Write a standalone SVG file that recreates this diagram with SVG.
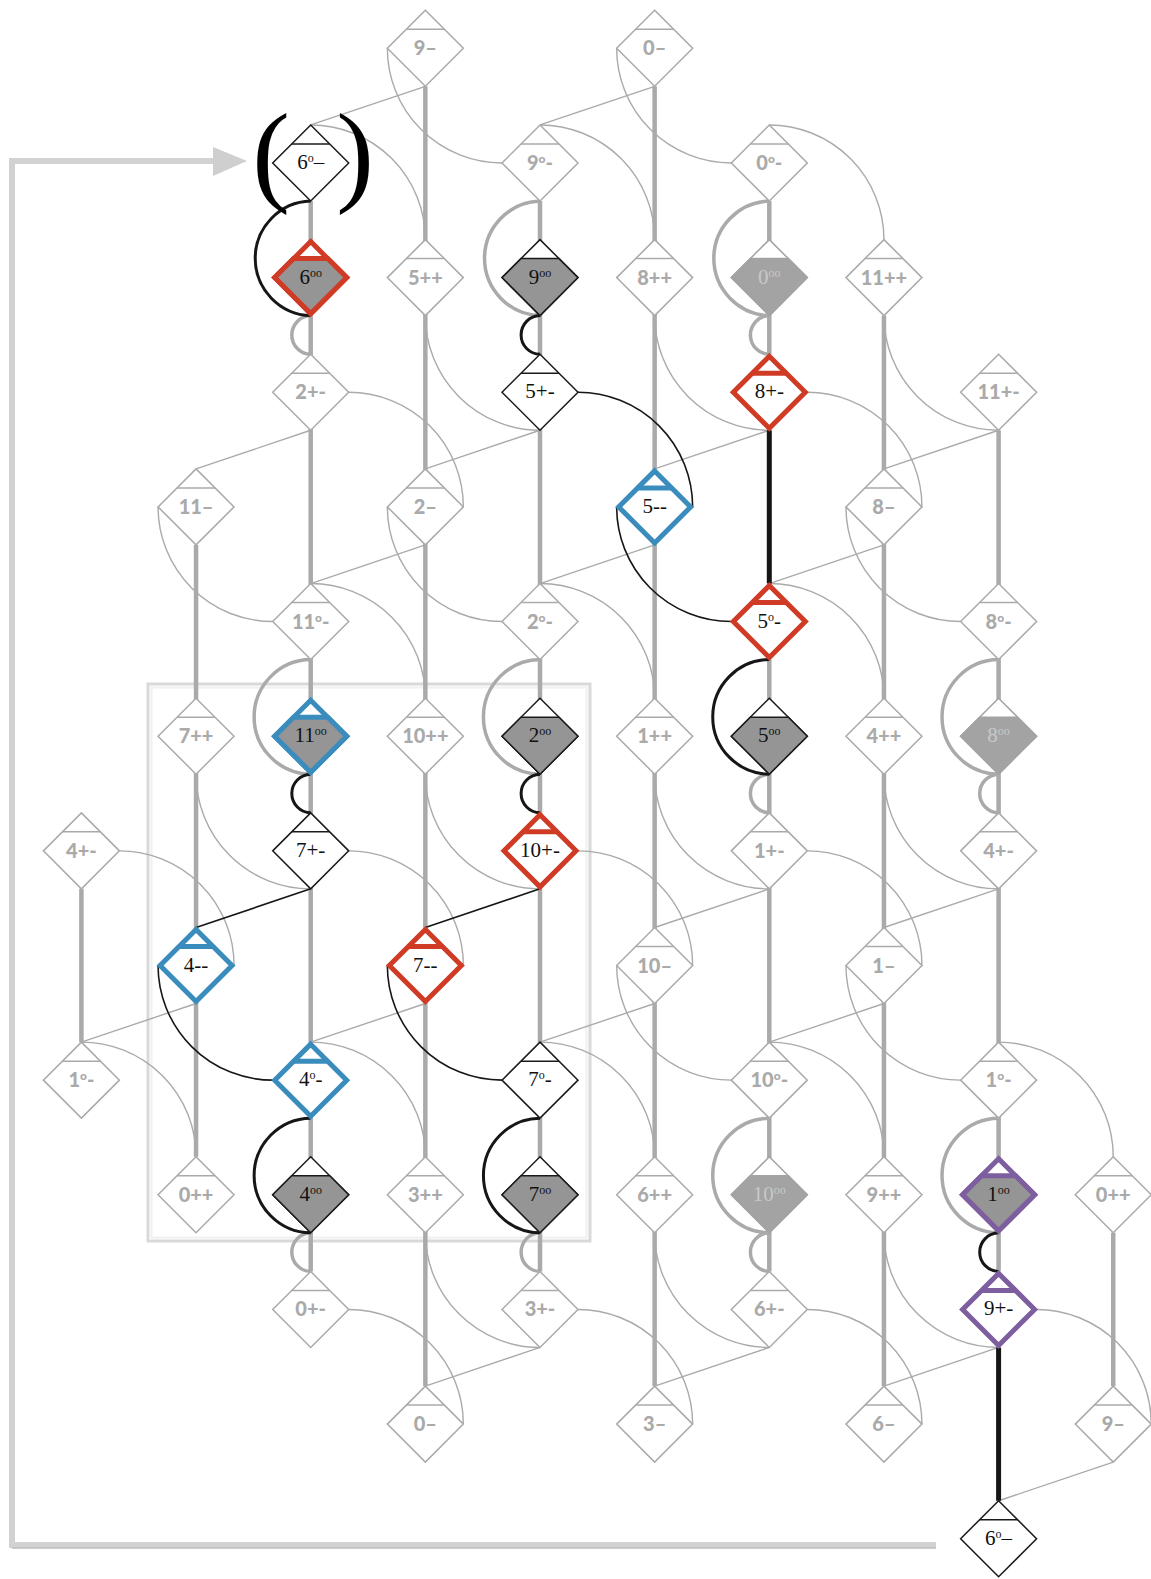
<svg xmlns="http://www.w3.org/2000/svg" width="1151" height="1579" viewBox="0 0 1151 1579">
<style>
.thin{fill:none;stroke:#aaa;stroke-width:1.4}
.thick{fill:none;stroke:#aaa;stroke-width:4.5}
.arcg{fill:none;stroke:#aaa;stroke-width:3.5}
.arck{fill:none;stroke:#161616;stroke-width:3}
.thinb{fill:none;stroke:#161616;stroke-width:1.6}
.thickb{fill:none;stroke:#161616;stroke-width:5}
.d{fill:#fff}
.lo{fill:#959595}
.g polygon,.g line{stroke:#aaa;stroke-width:1.5}
.k polygon,.k line{stroke:#1a1a1a;stroke-width:1.5}
.gf polygon{stroke:#a3a3a3;stroke-width:1.5}
.gf .lo{fill:#a3a3a3}
.red polygon,.red line{stroke:#d03b26;stroke-width:5}
.blue polygon,.blue line{stroke:#3a8cbd;stroke-width:5}
.pur polygon,.pur line{stroke:#7d5e9f;stroke-width:5}
text{text-anchor:middle}
.tg{font-family:Lato,"Liberation Sans",sans-serif;font-weight:900;font-size:20px;fill:#aaa}
.ts{font-family:"Liberation Serif",serif;font-size:21px;fill:#111}
.gf text{fill:#c8c8c8}
.su{font-size:12px}
.frame{fill:none;stroke:#d9d9d9;stroke-width:3}
.frame2{fill:none;stroke:#f0f0f0;stroke-width:2}
.bar{fill:none;stroke:#d2d2d2;stroke-width:6}
.paren{font-family:"Liberation Serif",serif;font-size:113px;fill:#000}
</style>

<g id="frame">
<rect class="frame" x="148" y="684" width="442" height="557"/>
<rect class="frame2" x="151.5" y="687.5" width="435" height="550"/>
</g>

<g id="feedback-arrow">
<path class="bar" d="M936,1545 H12 V161 H214"/>
<path d="M936,1548 H12" fill="none" stroke="#bdbdbd" stroke-width="1.5"/>
<polygon points="213,147 247,161 213,176" fill="#cfcfcf"/>
</g>

<g id="connectors">
<path class="thick" d="M425.35,86.3V1386.1 M654.65,86.3V1386.1 M883.95,315.6V1386.1 M1113.25,1232.8V1386.1 M196.05,544.9V1156.8 M81.4,888.85V1042.15 M310.7,201V1271.45 M540,201V1271.45 M769.3,201V354.25 M769.3,659.55V1271.45 M998.6,430.25V1271.45"/>
<path class="thin" d="M425.35,86.3L310.7,124.95 M654.65,86.3L540,124.95 M310.7,430.25L196.05,468.9 M540,430.25L425.35,468.9 M769.3,430.25L654.65,468.9 M998.6,430.25L883.95,468.9 M425.35,544.9L310.7,583.55 M654.65,544.9L540,583.55 M883.95,544.9L769.3,583.55 M769.3,888.85L654.65,927.5 M998.6,888.85L883.95,927.5 M196.05,1003.5L81.4,1042.15 M425.35,1003.5L310.7,1042.15 M654.65,1003.5L540,1042.15 M883.95,1003.5L769.3,1042.15 M540,1347.45L425.35,1386.1 M769.3,1347.45L654.65,1386.1 M998.6,1347.45L883.95,1386.1 M1113.25,1462.1L998.6,1500.75"/>
<path class="thin" d="M348.7,392.25A114.65,114.65 0 0 1 463.35,506.9 M807.3,392.25A114.65,114.65 0 0 1 921.95,506.9 M119.4,850.85A114.65,114.65 0 0 1 234.05,965.5 M348.7,850.85A114.65,114.65 0 0 1 463.35,965.5 M578,850.85A114.65,114.65 0 0 1 692.65,965.5 M807.3,850.85A114.65,114.65 0 0 1 921.95,965.5 M348.7,1309.45A114.65,114.65 0 0 1 463.35,1424.1 M578,1309.45A114.65,114.65 0 0 1 692.65,1424.1 M807.3,1309.45A114.65,114.65 0 0 1 921.95,1424.1 M1036.6,1309.45A114.65,114.65 0 0 1 1151.25,1424.1"/>
<path class="thin" d="M387.35,48.3A114.65,114.65 0 0 0 502,162.95 M616.65,48.3A114.65,114.65 0 0 0 731.3,162.95 M158.05,506.9A114.65,114.65 0 0 0 272.7,621.55 M387.35,506.9A114.65,114.65 0 0 0 502,621.55 M845.95,506.9A114.65,114.65 0 0 0 960.6,621.55 M616.65,965.5A114.65,114.65 0 0 0 731.3,1080.15 M845.95,965.5A114.65,114.65 0 0 0 960.6,1080.15"/>
<path class="thin" d="M425.35,315.6A114.65,114.65 0 0 0 540,430.25 M654.65,315.6A114.65,114.65 0 0 0 769.3,430.25 M883.95,315.6A114.65,114.65 0 0 0 998.6,430.25 M196.05,774.2A114.65,114.65 0 0 0 310.7,888.85 M425.35,774.2A114.65,114.65 0 0 0 540,888.85 M654.65,774.2A114.65,114.65 0 0 0 769.3,888.85 M883.95,774.2A114.65,114.65 0 0 0 998.6,888.85 M425.35,1232.8A114.65,114.65 0 0 0 540,1347.45 M654.65,1232.8A114.65,114.65 0 0 0 769.3,1347.45 M883.95,1232.8A114.65,114.65 0 0 0 998.6,1347.45"/>
<path class="thin" d="M310.7,124.95A114.65,114.65 0 0 1 425.35,239.6 M540,124.95A114.65,114.65 0 0 1 654.65,239.6 M769.3,124.95A114.65,114.65 0 0 1 883.95,239.6 M310.7,583.55A114.65,114.65 0 0 1 425.35,698.2 M540,583.55A114.65,114.65 0 0 1 654.65,698.2 M769.3,583.55A114.65,114.65 0 0 1 883.95,698.2 M81.4,1042.15A114.65,114.65 0 0 1 196.05,1156.8 M310.7,1042.15A114.65,114.65 0 0 1 425.35,1156.8 M540,1042.15A114.65,114.65 0 0 1 654.65,1156.8 M769.3,1042.15A114.65,114.65 0 0 1 883.95,1156.8 M998.6,1042.15A114.65,114.65 0 0 1 1113.25,1156.8"/>
<path class="arcg" d="M540,201A57.33,57.33 0 0 0 540,315.6 M769.3,201A57.33,57.33 0 0 0 769.3,315.6 M310.7,659.55A57.33,57.33 0 0 0 310.7,774.2 M540,659.55A57.33,57.33 0 0 0 540,774.2 M998.6,659.55A57.33,57.33 0 0 0 998.6,774.2 M769.3,1118.15A57.33,57.33 0 0 0 769.3,1232.8 M998.6,1118.15A57.33,57.33 0 0 0 998.6,1232.8"/>
<path class="arcg" d="M310.7,315.6A19.33,19.33 0 0 0 310.7,354.25 M769.3,315.6A19.33,19.33 0 0 0 769.3,354.25 M769.3,774.2A19.33,19.33 0 0 0 769.3,812.85 M998.6,774.2A19.33,19.33 0 0 0 998.6,812.85 M310.7,1232.8A19.33,19.33 0 0 0 310.7,1271.45 M540,1232.8A19.33,19.33 0 0 0 540,1271.45 M769.3,1232.8A19.33,19.33 0 0 0 769.3,1271.45"/>
<path class="thickb" d="M769.3,430.25V583.55 M998.6,1347.45V1500.75"/>
<path class="thinb" d="M310.7,888.85L196.05,927.5 M540,888.85L425.35,927.5 M578,392.25A114.65,114.65 0 0 1 692.65,506.9 M616.65,506.9A114.65,114.65 0 0 0 731.3,621.55 M158.05,965.5A114.65,114.65 0 0 0 272.7,1080.15 M387.35,965.5A114.65,114.65 0 0 0 502,1080.15"/>
<path class="arck" d="M310.7,201A57.33,57.33 0 0 0 310.7,315.6 M769.3,659.55A57.33,57.33 0 0 0 769.3,774.2 M310.7,1118.15A57.33,57.33 0 0 0 310.7,1232.8 M540,1118.15A57.33,57.33 0 0 0 540,1232.8"/>
<path class="arck" d="M540,315.6A19.33,19.33 0 0 0 540,354.25 M310.7,774.2A19.33,19.33 0 0 0 310.7,812.85 M540,774.2A19.33,19.33 0 0 0 540,812.85 M998.6,1232.8A19.33,19.33 0 0 0 998.6,1271.45"/>
</g>

<g id="brackets">
<text class="paren" x="271" y="191">(</text>
<text class="paren" x="355" y="191">)</text>
</g>

<g id="nodes">
<g id="n-9mm-top" class="g" transform="translate(425.35,48.3)"><polygon class="d" points="0,-38 38,0 0,38 -38,0"/><line x1="-19" y1="-19" x2="19" y2="-19"/><text class="tg" y="7">9–</text></g>
<g id="n-0mm-top" class="g" transform="translate(654.65,48.3)"><polygon class="d" points="0,-38 38,0 0,38 -38,0"/><line x1="-19" y1="-19" x2="19" y2="-19"/><text class="tg" y="7">0–</text></g>
<g id="n-6om-top" class="k" transform="translate(310.7,162.95)"><polygon class="d" points="0,-38 38,0 0,38 -38,0"/><line x1="-19" y1="-19" x2="19" y2="-19"/><text class="ts" y="6">6<tspan class="su" dy="-7">o</tspan><tspan dy="7">–</tspan></text></g>
<g id="n-9om" class="g" transform="translate(540,162.95)"><polygon class="d" points="0,-38 38,0 0,38 -38,0"/><line x1="-19" y1="-19" x2="19" y2="-19"/><text class="tg" y="7">9<tspan class="su" dy="-7">o</tspan><tspan dy="7">-</tspan></text></g>
<g id="n-0om" class="g" transform="translate(769.3,162.95)"><polygon class="d" points="0,-38 38,0 0,38 -38,0"/><line x1="-19" y1="-19" x2="19" y2="-19"/><text class="tg" y="7">0<tspan class="su" dy="-7">o</tspan><tspan dy="7">-</tspan></text></g>
<g id="n-6oo" class="red" transform="translate(310.7,277.6)"><polygon class="d" points="0,-36 36,0 0,36 -36,0"/><polygon class="lo" points="-17,-19 17,-19 36,0 0,36 -36,0"/><text class="ts" y="6">6<tspan class="su" dy="-7">oo</tspan></text></g>
<g id="n-5pp" class="g" transform="translate(425.35,277.6)"><polygon class="d" points="0,-38 38,0 0,38 -38,0"/><line x1="-19" y1="-19" x2="19" y2="-19"/><text class="tg" y="7">5++</text></g>
<g id="n-9oo" class="k" transform="translate(540,277.6)"><polygon class="d" points="0,-38 38,0 0,38 -38,0"/><polygon class="lo" points="-19,-19 19,-19 38,0 0,38 -38,0"/><text class="ts" y="6">9<tspan class="su" dy="-7">oo</tspan></text></g>
<g id="n-8pp" class="g" transform="translate(654.65,277.6)"><polygon class="d" points="0,-38 38,0 0,38 -38,0"/><line x1="-19" y1="-19" x2="19" y2="-19"/><text class="tg" y="7">8++</text></g>
<g id="n-0oo" class="gf" transform="translate(769.3,277.6)"><polygon class="d" points="0,-38 38,0 0,38 -38,0"/><polygon class="lo" points="-19,-19 19,-19 38,0 0,38 -38,0"/><text class="ts" y="6">0<tspan class="su" dy="-7">oo</tspan></text></g>
<g id="n-11pp" class="g" transform="translate(883.95,277.6)"><polygon class="d" points="0,-38 38,0 0,38 -38,0"/><line x1="-19" y1="-19" x2="19" y2="-19"/><text class="tg" y="7">11++</text></g>
<g id="n-2pm" class="g" transform="translate(310.7,392.25)"><polygon class="d" points="0,-38 38,0 0,38 -38,0"/><line x1="-19" y1="-19" x2="19" y2="-19"/><text class="tg" y="7">2+-</text></g>
<g id="n-5pm" class="k" transform="translate(540,392.25)"><polygon class="d" points="0,-38 38,0 0,38 -38,0"/><line x1="-19" y1="-19" x2="19" y2="-19"/><text class="ts" y="6">5+-</text></g>
<g id="n-8pm" class="red" transform="translate(769.3,392.25)"><polygon class="d" points="0,-36 36,0 0,36 -36,0"/><line x1="-17" y1="-19" x2="17" y2="-19"/><text class="ts" y="6">8+-</text></g>
<g id="n-11pm" class="g" transform="translate(998.6,392.25)"><polygon class="d" points="0,-38 38,0 0,38 -38,0"/><line x1="-19" y1="-19" x2="19" y2="-19"/><text class="tg" y="7">11+-</text></g>
<g id="n-11mm" class="g" transform="translate(196.05,506.9)"><polygon class="d" points="0,-38 38,0 0,38 -38,0"/><line x1="-19" y1="-19" x2="19" y2="-19"/><text class="tg" y="7">11–</text></g>
<g id="n-2mm" class="g" transform="translate(425.35,506.9)"><polygon class="d" points="0,-38 38,0 0,38 -38,0"/><line x1="-19" y1="-19" x2="19" y2="-19"/><text class="tg" y="7">2–</text></g>
<g id="n-5mm" class="blue" transform="translate(654.65,506.9)"><polygon class="d" points="0,-36 36,0 0,36 -36,0"/><line x1="-17" y1="-19" x2="17" y2="-19"/><text class="ts" y="6">5--</text></g>
<g id="n-8mm" class="g" transform="translate(883.95,506.9)"><polygon class="d" points="0,-38 38,0 0,38 -38,0"/><line x1="-19" y1="-19" x2="19" y2="-19"/><text class="tg" y="7">8–</text></g>
<g id="n-11om" class="g" transform="translate(310.7,621.55)"><polygon class="d" points="0,-38 38,0 0,38 -38,0"/><line x1="-19" y1="-19" x2="19" y2="-19"/><text class="tg" y="7">11<tspan class="su" dy="-7">o</tspan><tspan dy="7">-</tspan></text></g>
<g id="n-2om" class="g" transform="translate(540,621.55)"><polygon class="d" points="0,-38 38,0 0,38 -38,0"/><line x1="-19" y1="-19" x2="19" y2="-19"/><text class="tg" y="7">2<tspan class="su" dy="-7">o</tspan><tspan dy="7">-</tspan></text></g>
<g id="n-5om" class="red" transform="translate(769.3,621.55)"><polygon class="d" points="0,-36 36,0 0,36 -36,0"/><line x1="-17" y1="-19" x2="17" y2="-19"/><text class="ts" y="6">5<tspan class="su" dy="-7">o</tspan><tspan dy="7">-</tspan></text></g>
<g id="n-8om" class="g" transform="translate(998.6,621.55)"><polygon class="d" points="0,-38 38,0 0,38 -38,0"/><line x1="-19" y1="-19" x2="19" y2="-19"/><text class="tg" y="7">8<tspan class="su" dy="-7">o</tspan><tspan dy="7">-</tspan></text></g>
<g id="n-7pp" class="g" transform="translate(196.05,736.2)"><polygon class="d" points="0,-38 38,0 0,38 -38,0"/><line x1="-19" y1="-19" x2="19" y2="-19"/><text class="tg" y="7">7++</text></g>
<g id="n-11oo" class="blue" transform="translate(310.7,736.2)"><polygon class="d" points="0,-36 36,0 0,36 -36,0"/><polygon class="lo" points="-17,-19 17,-19 36,0 0,36 -36,0"/><text class="ts" y="6">11<tspan class="su" dy="-7">oo</tspan></text></g>
<g id="n-10pp" class="g" transform="translate(425.35,736.2)"><polygon class="d" points="0,-38 38,0 0,38 -38,0"/><line x1="-19" y1="-19" x2="19" y2="-19"/><text class="tg" y="7">10++</text></g>
<g id="n-2oo" class="k" transform="translate(540,736.2)"><polygon class="d" points="0,-38 38,0 0,38 -38,0"/><polygon class="lo" points="-19,-19 19,-19 38,0 0,38 -38,0"/><text class="ts" y="6">2<tspan class="su" dy="-7">oo</tspan></text></g>
<g id="n-1pp" class="g" transform="translate(654.65,736.2)"><polygon class="d" points="0,-38 38,0 0,38 -38,0"/><line x1="-19" y1="-19" x2="19" y2="-19"/><text class="tg" y="7">1++</text></g>
<g id="n-5oo" class="k" transform="translate(769.3,736.2)"><polygon class="d" points="0,-38 38,0 0,38 -38,0"/><polygon class="lo" points="-19,-19 19,-19 38,0 0,38 -38,0"/><text class="ts" y="6">5<tspan class="su" dy="-7">oo</tspan></text></g>
<g id="n-4pp" class="g" transform="translate(883.95,736.2)"><polygon class="d" points="0,-38 38,0 0,38 -38,0"/><line x1="-19" y1="-19" x2="19" y2="-19"/><text class="tg" y="7">4++</text></g>
<g id="n-8oo" class="gf" transform="translate(998.6,736.2)"><polygon class="d" points="0,-38 38,0 0,38 -38,0"/><polygon class="lo" points="-19,-19 19,-19 38,0 0,38 -38,0"/><text class="ts" y="6">8<tspan class="su" dy="-7">oo</tspan></text></g>
<g id="n-4pm-a" class="g" transform="translate(81.4,850.85)"><polygon class="d" points="0,-38 38,0 0,38 -38,0"/><line x1="-19" y1="-19" x2="19" y2="-19"/><text class="tg" y="7">4+-</text></g>
<g id="n-7pm" class="k" transform="translate(310.7,850.85)"><polygon class="d" points="0,-38 38,0 0,38 -38,0"/><line x1="-19" y1="-19" x2="19" y2="-19"/><text class="ts" y="6">7+-</text></g>
<g id="n-10pm" class="red" transform="translate(540,850.85)"><polygon class="d" points="0,-36 36,0 0,36 -36,0"/><line x1="-17" y1="-19" x2="17" y2="-19"/><text class="ts" y="6">10+-</text></g>
<g id="n-1pm" class="g" transform="translate(769.3,850.85)"><polygon class="d" points="0,-38 38,0 0,38 -38,0"/><line x1="-19" y1="-19" x2="19" y2="-19"/><text class="tg" y="7">1+-</text></g>
<g id="n-4pm-b" class="g" transform="translate(998.6,850.85)"><polygon class="d" points="0,-38 38,0 0,38 -38,0"/><line x1="-19" y1="-19" x2="19" y2="-19"/><text class="tg" y="7">4+-</text></g>
<g id="n-4mm" class="blue" transform="translate(196.05,965.5)"><polygon class="d" points="0,-36 36,0 0,36 -36,0"/><line x1="-17" y1="-19" x2="17" y2="-19"/><text class="ts" y="6">4--</text></g>
<g id="n-7mm" class="red" transform="translate(425.35,965.5)"><polygon class="d" points="0,-36 36,0 0,36 -36,0"/><line x1="-17" y1="-19" x2="17" y2="-19"/><text class="ts" y="6">7--</text></g>
<g id="n-10mm" class="g" transform="translate(654.65,965.5)"><polygon class="d" points="0,-38 38,0 0,38 -38,0"/><line x1="-19" y1="-19" x2="19" y2="-19"/><text class="tg" y="7">10–</text></g>
<g id="n-1mm" class="g" transform="translate(883.95,965.5)"><polygon class="d" points="0,-38 38,0 0,38 -38,0"/><line x1="-19" y1="-19" x2="19" y2="-19"/><text class="tg" y="7">1–</text></g>
<g id="n-1om-a" class="g" transform="translate(81.4,1080.15)"><polygon class="d" points="0,-38 38,0 0,38 -38,0"/><line x1="-19" y1="-19" x2="19" y2="-19"/><text class="tg" y="7">1<tspan class="su" dy="-7">o</tspan><tspan dy="7">-</tspan></text></g>
<g id="n-4om" class="blue" transform="translate(310.7,1080.15)"><polygon class="d" points="0,-36 36,0 0,36 -36,0"/><line x1="-17" y1="-19" x2="17" y2="-19"/><text class="ts" y="6">4<tspan class="su" dy="-7">o</tspan><tspan dy="7">-</tspan></text></g>
<g id="n-7om" class="k" transform="translate(540,1080.15)"><polygon class="d" points="0,-38 38,0 0,38 -38,0"/><line x1="-19" y1="-19" x2="19" y2="-19"/><text class="ts" y="6">7<tspan class="su" dy="-7">o</tspan><tspan dy="7">-</tspan></text></g>
<g id="n-10om" class="g" transform="translate(769.3,1080.15)"><polygon class="d" points="0,-38 38,0 0,38 -38,0"/><line x1="-19" y1="-19" x2="19" y2="-19"/><text class="tg" y="7">10<tspan class="su" dy="-7">o</tspan><tspan dy="7">-</tspan></text></g>
<g id="n-1om-b" class="g" transform="translate(998.6,1080.15)"><polygon class="d" points="0,-38 38,0 0,38 -38,0"/><line x1="-19" y1="-19" x2="19" y2="-19"/><text class="tg" y="7">1<tspan class="su" dy="-7">o</tspan><tspan dy="7">-</tspan></text></g>
<g id="n-0pp-a" class="g" transform="translate(196.05,1194.8)"><polygon class="d" points="0,-38 38,0 0,38 -38,0"/><line x1="-19" y1="-19" x2="19" y2="-19"/><text class="tg" y="7">0++</text></g>
<g id="n-4oo" class="k" transform="translate(310.7,1194.8)"><polygon class="d" points="0,-38 38,0 0,38 -38,0"/><polygon class="lo" points="-19,-19 19,-19 38,0 0,38 -38,0"/><text class="ts" y="6">4<tspan class="su" dy="-7">oo</tspan></text></g>
<g id="n-3pp" class="g" transform="translate(425.35,1194.8)"><polygon class="d" points="0,-38 38,0 0,38 -38,0"/><line x1="-19" y1="-19" x2="19" y2="-19"/><text class="tg" y="7">3++</text></g>
<g id="n-7oo" class="k" transform="translate(540,1194.8)"><polygon class="d" points="0,-38 38,0 0,38 -38,0"/><polygon class="lo" points="-19,-19 19,-19 38,0 0,38 -38,0"/><text class="ts" y="6">7<tspan class="su" dy="-7">oo</tspan></text></g>
<g id="n-6pp" class="g" transform="translate(654.65,1194.8)"><polygon class="d" points="0,-38 38,0 0,38 -38,0"/><line x1="-19" y1="-19" x2="19" y2="-19"/><text class="tg" y="7">6++</text></g>
<g id="n-10oo" class="gf" transform="translate(769.3,1194.8)"><polygon class="d" points="0,-38 38,0 0,38 -38,0"/><polygon class="lo" points="-19,-19 19,-19 38,0 0,38 -38,0"/><text class="ts" y="6">10<tspan class="su" dy="-7">oo</tspan></text></g>
<g id="n-9pp" class="g" transform="translate(883.95,1194.8)"><polygon class="d" points="0,-38 38,0 0,38 -38,0"/><line x1="-19" y1="-19" x2="19" y2="-19"/><text class="tg" y="7">9++</text></g>
<g id="n-1oo" class="pur" transform="translate(998.6,1194.8)"><polygon class="d" points="0,-36 36,0 0,36 -36,0"/><polygon class="lo" points="-17,-19 17,-19 36,0 0,36 -36,0"/><text class="ts" y="6">1<tspan class="su" dy="-7">oo</tspan></text></g>
<g id="n-0pp-b" class="g" transform="translate(1113.25,1194.8)"><polygon class="d" points="0,-38 38,0 0,38 -38,0"/><line x1="-19" y1="-19" x2="19" y2="-19"/><text class="tg" y="7">0++</text></g>
<g id="n-0pm" class="g" transform="translate(310.7,1309.45)"><polygon class="d" points="0,-38 38,0 0,38 -38,0"/><line x1="-19" y1="-19" x2="19" y2="-19"/><text class="tg" y="7">0+-</text></g>
<g id="n-3pm" class="g" transform="translate(540,1309.45)"><polygon class="d" points="0,-38 38,0 0,38 -38,0"/><line x1="-19" y1="-19" x2="19" y2="-19"/><text class="tg" y="7">3+-</text></g>
<g id="n-6pm" class="g" transform="translate(769.3,1309.45)"><polygon class="d" points="0,-38 38,0 0,38 -38,0"/><line x1="-19" y1="-19" x2="19" y2="-19"/><text class="tg" y="7">6+-</text></g>
<g id="n-9pm" class="pur" transform="translate(998.6,1309.45)"><polygon class="d" points="0,-36 36,0 0,36 -36,0"/><line x1="-17" y1="-19" x2="17" y2="-19"/><text class="ts" y="6">9+-</text></g>
<g id="n-0mm-bot" class="g" transform="translate(425.35,1424.1)"><polygon class="d" points="0,-38 38,0 0,38 -38,0"/><line x1="-19" y1="-19" x2="19" y2="-19"/><text class="tg" y="7">0–</text></g>
<g id="n-3mm" class="g" transform="translate(654.65,1424.1)"><polygon class="d" points="0,-38 38,0 0,38 -38,0"/><line x1="-19" y1="-19" x2="19" y2="-19"/><text class="tg" y="7">3–</text></g>
<g id="n-6mm" class="g" transform="translate(883.95,1424.1)"><polygon class="d" points="0,-38 38,0 0,38 -38,0"/><line x1="-19" y1="-19" x2="19" y2="-19"/><text class="tg" y="7">6–</text></g>
<g id="n-9mm-bot" class="g" transform="translate(1113.25,1424.1)"><polygon class="d" points="0,-38 38,0 0,38 -38,0"/><line x1="-19" y1="-19" x2="19" y2="-19"/><text class="tg" y="7">9–</text></g>
<g id="n-6om-bot" class="k" transform="translate(998.6,1538.75)"><polygon class="d" points="0,-38 38,0 0,38 -38,0"/><line x1="-19" y1="-19" x2="19" y2="-19"/><text class="ts" y="6">6<tspan class="su" dy="-7">o</tspan><tspan dy="7">–</tspan></text></g>
</g>
</svg>
